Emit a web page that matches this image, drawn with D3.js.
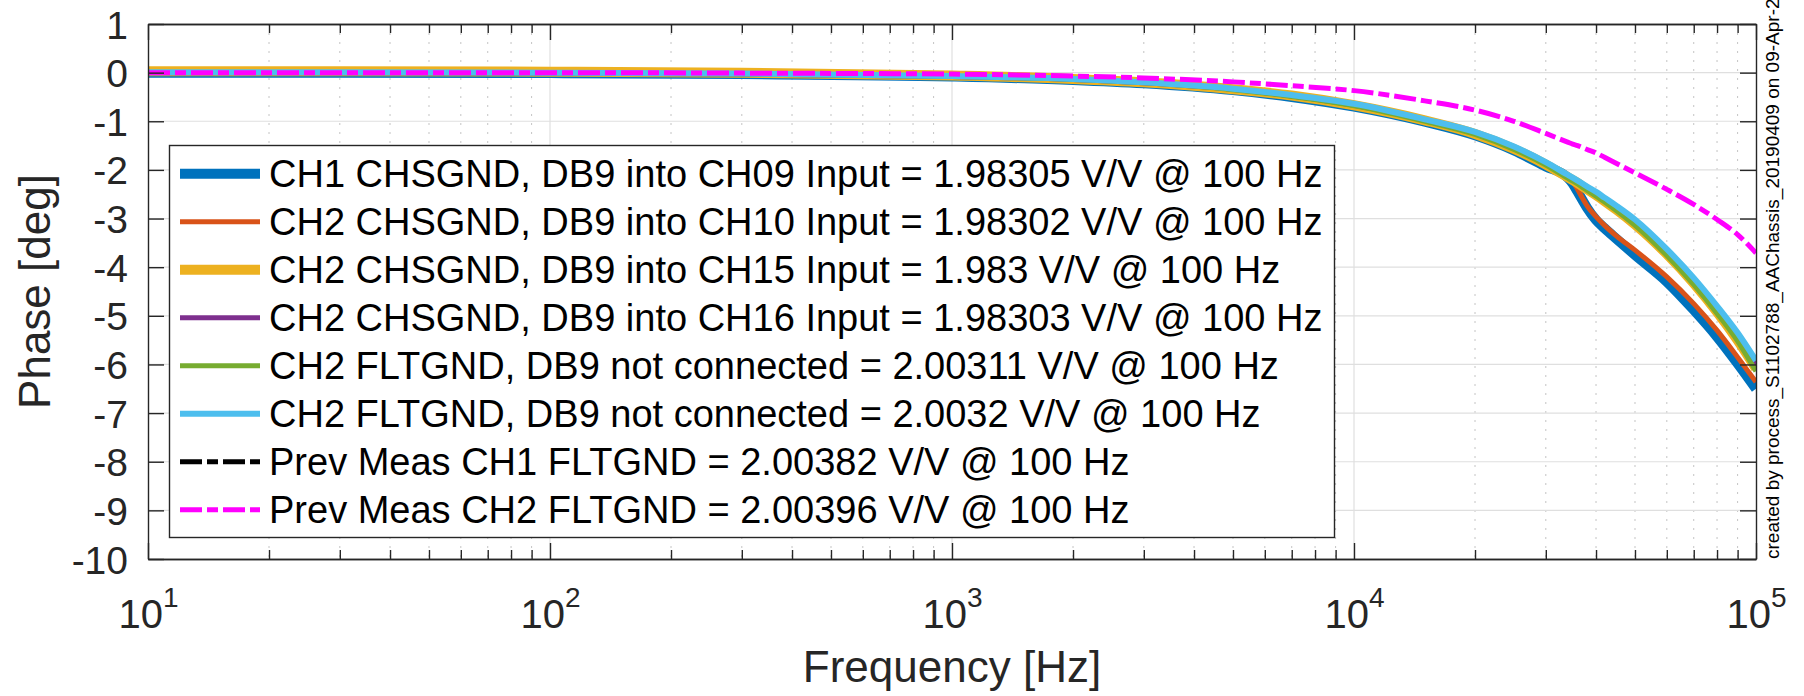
<!DOCTYPE html>
<html><head><meta charset="utf-8">
<script src="https://cdn.jsdelivr.net/npm/d3@7"></script>
<style>
body{margin:0;background:#fff}
svg{display:block}
text{font-family:"Liberation Sans",Arial,Helvetica,sans-serif}
</style>
</head><body>
<svg id="chart" width="1804" height="696"></svg>
<script>
// ---------------- data ----------------
const freqs = [10, 30, 100, 300, 1000, 2000, 3000, 5000, 7000, 10000, 15000, 20000, 25000, 30000,
  34000, 35000, 36000, 37000, 38000, 40000, 42000, 45000, 50000, 60000, 70000, 80000, 90000, 100000];

const ch1_ch09 = [0.0, 0.0, -0.01, -0.03, -0.08, -0.15, -0.22, -0.36, -0.5, -0.7, -1.01, -1.29, -1.6, -1.93,
  -2.16, -2.28, -2.45, -2.62, -2.78, -3.03, -3.2, -3.42, -3.75, -4.3, -4.88, -5.43, -5.98, -6.5];
const ch2_ch10 = [0.0, 0.0, -0.01, -0.03, -0.08, -0.14, -0.21, -0.35, -0.49, -0.69, -1.0, -1.28, -1.59, -1.91,
  -2.15, -2.24, -2.4, -2.58, -2.74, -2.96, -3.14, -3.36, -3.65, -4.2, -4.75, -5.3, -5.85, -6.36];
const ch2_ch15 = [0.03, 0.03, 0.02, 0.0, -0.06, -0.13, -0.2, -0.34, -0.47, -0.67, -0.98, -1.26, -1.57, -1.89,
  -2.15, -2.21, -2.27, -2.34, -2.4, -2.52, -2.64, -2.82, -3.12, -3.73, -4.33, -4.92, -5.5, -6.08];
const ch2_ch16 = [0.0, 0.0, -0.01, -0.03, -0.08, -0.14, -0.21, -0.34, -0.48, -0.67, -0.98, -1.25, -1.56, -1.88,
  -2.14, -2.2, -2.26, -2.33, -2.39, -2.5, -2.62, -2.8, -3.09, -3.7, -4.3, -4.88, -5.45, -6.02];
const ch2_flt_a = [0.0, 0.0, -0.01, -0.03, -0.08, -0.14, -0.21, -0.35, -0.49, -0.68, -1.0, -1.27, -1.58, -1.9,
  -2.17, -2.23, -2.29, -2.36, -2.42, -2.54, -2.66, -2.84, -3.14, -3.76, -4.36, -4.95, -5.52, -6.14];
const ch2_flt_b = [0.01, 0.01, 0.0, -0.02, -0.07, -0.13, -0.2, -0.33, -0.46, -0.64, -0.96, -1.22, -1.52, -1.84,
  -2.1, -2.16, -2.22, -2.28, -2.34, -2.45, -2.57, -2.74, -3.02, -3.63, -4.22, -4.8, -5.35, -5.92];
const prev_ch1 = [];
const prev_ch2 = [0.0, 0.0, 0.0, -0.01, -0.03, -0.07, -0.11, -0.19, -0.27, -0.37, -0.58, -0.77, -1.0, -1.25,
  -1.43, -1.47, -1.5, -1.54, -1.58, -1.65, -1.74, -1.87, -2.06, -2.4, -2.71, -3.02, -3.33, -3.71];

const seriesLabels = [
  "CH1 CHSGND, DB9 into CH09 Input = 1.98305 V/V @ 100 Hz",
  "CH2 CHSGND, DB9 into CH10 Input = 1.98302 V/V @ 100 Hz",
  "CH2 CHSGND, DB9 into CH15 Input = 1.983 V/V @ 100 Hz",
  "CH2 CHSGND, DB9 into CH16 Input = 1.98303 V/V @ 100 Hz",
  "CH2 FLTGND, DB9 not connected = 2.00311 V/V @ 100 Hz",
  "CH2 FLTGND, DB9 not connected = 2.0032 V/V @ 100 Hz",
  "Prev Meas CH1 FLTGND = 2.00382 V/V @ 100 Hz",
  "Prev Meas CH2 FLTGND = 2.00396 V/V @ 100 Hz"
];
const seriesValues = [ch1_ch09, ch2_ch10, ch2_ch15, ch2_ch16, ch2_flt_a, ch2_flt_b, prev_ch1, prev_ch2];

const xTicks = [10, 100, 1000, 10000, 100000];
const xTickExp = ["1", "2", "3", "4", "5"];
const yTicks = [1, 0, -1, -2, -3, -4, -5, -6, -7, -8, -9, -10];
const xLabel = "Frequency [Hz]";
const yLabel = "Phase [deg]";
const noteText = "created by process_S1102788_AAChassis_20190409 on 09-Apr-2019";

// ---------------- styles ----------------
const colors = ["#0072BD", "#D95319", "#EDB120", "#7E2F8E", "#77AC30", "#4DBEEE", "#000000", "#FF00FF"];
const widths = [10, 5, 10, 5, 5, 6, 5, 5];
const dashes = [null, null, null, null, null, null, "22,5,11,5", "22,5,11,5"];

const L = 148, R = 1756, T = 24, B = 559;
const axisColor = "#262626";

const svg = d3.select("#chart");
const x = d3.scaleLog().domain([10, 100000]).range([L, R]);
const y = d3.scaleLinear().domain([-10, 1]).range([B, T]);

// minor x values
const minorX = [];
for (let d = 10; d < 100000; d *= 10) for (let k = 2; k <= 9; k++) minorX.push(d * k);

// grid
const grid = svg.append("g");
grid.selectAll("line.minor").data(minorX).join("line")
  .attr("x1", d => x(d)).attr("x2", d => x(d)).attr("y1", T).attr("y2", B)
  .attr("stroke", "#c4c4c4").attr("stroke-width", 1).attr("stroke-dasharray", "2,7");
grid.selectAll("line.vmaj").data(xTicks.slice(1, -1)).join("line")
  .attr("x1", d => x(d)).attr("x2", d => x(d)).attr("y1", T).attr("y2", B)
  .attr("stroke", "#dfdfdf").attr("stroke-width", 1.2);
grid.selectAll("line.hmaj").data(yTicks.slice(1, -1)).join("line")
  .attr("x1", L).attr("x2", R).attr("y1", d => y(d)).attr("y2", d => y(d))
  .attr("stroke", "#dfdfdf").attr("stroke-width", 1.2);

// lines
svg.append("clipPath").attr("id", "clip").append("rect")
  .attr("x", L).attr("y", T).attr("width", R - L).attr("height", B - T);
const line = d3.line().x(d => x(d[0])).y(d => y(d[1])).curve(d3.curveMonotoneX);
const lg = svg.append("g").attr("clip-path", "url(#clip)");
seriesValues.forEach((vals, i) => {
  if (!vals.length) return;
  const pts = vals.map((v, j) => [freqs[j], v]);
  lg.append("path").attr("d", line(pts)).attr("fill", "none")
    .attr("stroke", colors[i]).attr("stroke-width", widths[i])
    .attr("stroke-dasharray", dashes[i]).attr("stroke-linejoin", "round");
});

// axes
function styleAxis(g) {
  g.selectAll("path.domain").attr("stroke", axisColor).attr("stroke-width", 1.4);
  g.selectAll(".tick line").attr("stroke", axisColor).attr("stroke-width", 1.4);
  g.selectAll("text").attr("fill", axisColor).style("font-family", '"Liberation Sans",Arial,sans-serif');
}
const xb = svg.append("g").attr("transform", `translate(0,${B})`)
  .call(d3.axisBottom(x).tickValues(xTicks).tickSizeInner(-16).tickSizeOuter(0).tickPadding(0).tickFormat(""));
svg.append("g").attr("transform", `translate(0,${B})`)
  .call(d3.axisBottom(x).tickValues(minorX).tickSizeInner(-9).tickSizeOuter(0).tickFormat("")).call(styleAxis);
svg.append("g").attr("transform", `translate(0,${T})`)
  .call(d3.axisTop(x).tickValues(xTicks).tickSizeInner(-16).tickSizeOuter(0).tickFormat("")).call(styleAxis);
svg.append("g").attr("transform", `translate(0,${T})`)
  .call(d3.axisTop(x).tickValues(minorX).tickSizeInner(-9).tickSizeOuter(0).tickFormat("")).call(styleAxis);
const yl = svg.append("g").attr("transform", `translate(${L},0)`)
  .call(d3.axisLeft(y).tickValues(yTicks).tickSizeInner(-16).tickSizeOuter(0).tickPadding(20).tickFormat(d => String(d)));
svg.append("g").attr("transform", `translate(${R},0)`)
  .call(d3.axisRight(y).tickValues(yTicks).tickSizeInner(-16).tickSizeOuter(0).tickFormat("")).call(styleAxis);
styleAxis(xb); styleAxis(yl);
yl.selectAll("text").attr("font-size", 39).attr("dy", 14).attr("x", -20);

// x tick labels with superscripts
xb.selectAll(".tick").each(function (d, i) {
  const t = d3.select(this).select("text");
  t.text(null).attr("y", 69).attr("dy", 0).attr("font-size", 40).attr("text-anchor", "middle").attr("x", 0);
  t.append("tspan").text("10");
  t.append("tspan").attr("font-size", 28).attr("dy", -21).text(xTickExp[i]);
});

// axis labels
svg.append("text").attr("x", (L + R) / 2).attr("y", 682).attr("text-anchor", "middle")
  .attr("font-size", 44).attr("fill", axisColor).text(xLabel);
svg.append("text").attr("transform", `translate(50,${(T + B) / 2}) rotate(-90)`).attr("text-anchor", "middle")
  .attr("font-size", 44).attr("fill", axisColor).text(yLabel);

// legend
const lgX = 169.5, lgY = 145.5, lgW = 1165, lgH = 392, rowH = 48, row0 = 173.7;
const leg = svg.append("g");
leg.append("rect").attr("x", lgX).attr("y", lgY).attr("width", lgW).attr("height", lgH)
  .attr("fill", "#fff").attr("stroke", axisColor).attr("stroke-width", 1.4);
seriesLabels.forEach((lab, i) => {
  const cy = row0 + i * rowH;
  leg.append("line").attr("x1", 180).attr("x2", 260).attr("y1", cy).attr("y2", cy)
    .attr("stroke", colors[i]).attr("stroke-width", widths[i]).attr("stroke-dasharray", dashes[i]);
  leg.append("text").attr("x", 269).attr("y", cy + 13.5).attr("font-size", 38).attr("fill", "#000").text(lab);
});

// side note (clipped at the top edge, as in the original)
svg.append("text").attr("transform", `translate(1779,${B}) rotate(-90)`)
  .attr("font-size", 19).attr("fill", "#000").text(noteText);
</script>
</body></html>
